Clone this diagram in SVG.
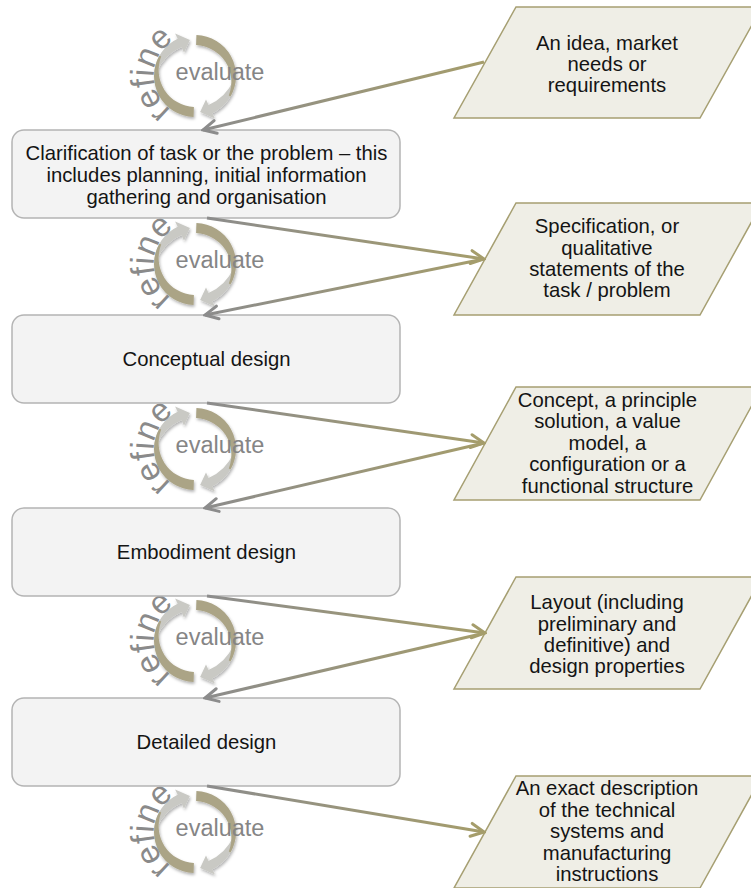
<svg xmlns="http://www.w3.org/2000/svg" width="751" height="888" viewBox="0 0 751 888">
  <style>
    .box { fill: #f3f3f3; stroke: #b4b4b4; stroke-width: 1.5; }
    .para { fill: #efeee6; stroke: #a69f72; stroke-width: 1.5; }
    .label { font-family: "Liberation Sans", Arial, sans-serif; font-size: 20.3px; fill: #141414; text-anchor: middle; }
    .evaluate { font-family: "Liberation Sans", Arial, sans-serif; font-size: 23.5px; fill: #858585; text-anchor: middle; }
    .refine { font-family: "Liberation Sans", Arial, sans-serif; font-size: 33px; fill: #8a8a8a; }
    .ringGray { fill: #c9c9c4; }
    .ringKhaki { fill: #aba486; }
    .conn { fill: none; stroke: url(#connGrad); stroke-width: 3; }
    .toBox { marker-end: url(#headGray); }
    .toPara { marker-end: url(#headKhaki); }
  </style>
  <defs>
    <linearGradient id="connGrad" x1="0" y1="0" x2="1" y2="0">
      <stop offset="0" stop-color="#8c8c8c"/>
      <stop offset="1" stop-color="#a59d6b"/>
    </linearGradient>
    <marker id="headGray" viewBox="-16 -9 18 18" refX="0" refY="0" markerWidth="18" markerHeight="18" markerUnits="userSpaceOnUse" orient="auto">
      <path d="M-13,-6.5 L0,0 L-13,6.5" fill="none" stroke="#8c8c8c" stroke-width="3" stroke-linecap="round"/>
    </marker>
    <marker id="headKhaki" viewBox="-16 -9 18 18" refX="0" refY="0" markerWidth="18" markerHeight="18" markerUnits="userSpaceOnUse" orient="auto">
      <path d="M-13,-6.5 L0,0 L-13,6.5" fill="none" stroke="#a59d6b" stroke-width="3" stroke-linecap="round"/>
    </marker>
    <filter id="soft" x="-20%" y="-20%" width="140%" height="140%">
      <feDropShadow dx="1" dy="2" stdDeviation="1.5" flood-color="#000" flood-opacity="0.3"/>
    </filter>
    <!-- circular refine/evaluate ring, centred at (195,76) -->
    <g id="ring" filter="url(#soft)">
      <path class="ringGray" d="M154.2,72.4 A41,41 0 0 1 177.7,38.8 L175.1,33.4 L189.9,39.9 L184.0,52.4 L181.5,47.0 A50,50 0 0 0 156.2,72.6 Z"/>
      <path class="ringGray" d="M235.8,79.6 A41,41 0 0 1 212.3,113.2 L214.9,118.6 L200.1,112.1 L206.0,99.6 L208.5,105.0 A50,50 0 0 0 233.8,79.4 Z"/>
      <path class="ringKhaki" d="M196.4,35.0 A41,41 0 0 1 230.5,96.5 L228.8,95.5 A37,37 0 0 0 196.1,45.0 Z"/>
      <path class="ringKhaki" d="M193.6,117.0 A41,41 0 0 1 159.5,55.5 L161.2,56.5 A37,37 0 0 0 193.9,107.0 Z"/>
    </g>
    <path id="refineArc" d="M180.0,114.5 A41,41 0 0 1 210.0,37.5" fill="none"/>
  </defs>

  <rect width="751" height="888" fill="#ffffff"/>

  <!-- evaluation cycles -->
  <g id="cycle1">
    <use href="#ring"/>
    <text class="evaluate" x="220" y="80">evaluate</text>
    <text class="refine"><textPath href="#refineArc" startOffset="10">refine</textPath></text>
  </g>
  <g id="cycle2" transform="translate(0,188)">
    <use href="#ring"/>
    <text class="evaluate" x="220" y="80">evaluate</text>
    <text class="refine"><textPath href="#refineArc" startOffset="10">refine</textPath></text>
  </g>
  <g id="cycle3" transform="translate(0,373)">
    <use href="#ring"/>
    <text class="evaluate" x="220" y="80">evaluate</text>
    <text class="refine"><textPath href="#refineArc" startOffset="10">refine</textPath></text>
  </g>
  <g id="cycle4" transform="translate(0,565)">
    <use href="#ring"/>
    <text class="evaluate" x="220" y="80">evaluate</text>
    <text class="refine"><textPath href="#refineArc" startOffset="10">refine</textPath></text>
  </g>
  <g id="cycle5" transform="translate(0,756)">
    <use href="#ring"/>
    <text class="evaluate" x="220" y="80">evaluate</text>
    <text class="refine"><textPath href="#refineArc" startOffset="10">refine</textPath></text>
  </g>

  <!-- design stages -->
  <g id="clarification">
    <rect class="box" x="12" y="130" width="388" height="88" rx="12"/>
    <text class="label" x="206.5" y="159.5">Clarification of task or the problem – this</text>
    <text class="label" x="206.5" y="181.5">includes planning, initial information</text>
    <text class="label" x="206.5" y="203.5">gathering and organisation</text>
  </g>
  <g id="conceptual">
    <rect class="box" x="12" y="315" width="388" height="88" rx="12"/>
    <text class="label" x="206.5" y="366">Conceptual design</text>
  </g>
  <g id="embodiment">
    <rect class="box" x="12" y="508" width="388" height="88" rx="12"/>
    <text class="label" x="206.5" y="559">Embodiment design</text>
  </g>
  <g id="detailed">
    <rect class="box" x="12" y="698" width="388" height="88" rx="12"/>
    <text class="label" x="206.5" y="749">Detailed design</text>
  </g>

  <!-- stage outputs -->
  <g id="idea">
    <path class="para" d="M516,7 L762,7 L700,118 L454,118 Z"/>
    <text class="label" x="607" y="49.5">An idea, market</text>
    <text class="label" x="607" y="70.5">needs or</text>
    <text class="label" x="607" y="91.5">requirements</text>
  </g>
  <g id="specification">
    <path class="para" d="M516,203 L762,203 L700,315 L454,315 Z"/>
    <text class="label" x="607" y="233.3">Specification, or</text>
    <text class="label" x="607" y="254.7">qualitative</text>
    <text class="label" x="607" y="276">statements of the</text>
    <text class="label" x="607" y="297.3">task / problem</text>
  </g>
  <g id="concept">
    <path class="para" d="M516,387 L762,387 L700,500 L454,500 Z"/>
    <text class="label" x="607.5" y="406.7">Concept, a principle</text>
    <text class="label" x="607.5" y="428.2">solution, a value</text>
    <text class="label" x="607.5" y="449.7">model, a</text>
    <text class="label" x="607.5" y="471.2">configuration or a</text>
    <text class="label" x="607.5" y="492.7">functional structure</text>
  </g>
  <g id="layout">
    <path class="para" d="M516,577 L762,577 L700,689 L454,689 Z"/>
    <text class="label" x="607" y="609.3">Layout (including</text>
    <text class="label" x="607" y="630.7">preliminary and</text>
    <text class="label" x="607" y="652">definitive) and</text>
    <text class="label" x="607" y="673.3">design properties</text>
  </g>
  <g id="description">
    <path class="para" d="M516,776 L762,776 L700,888 L454,888 Z"/>
    <text class="label" x="607" y="795">An exact description</text>
    <text class="label" x="607" y="816.5">of the technical</text>
    <text class="label" x="607" y="838">systems and</text>
    <text class="label" x="607" y="859.5">manufacturing</text>
    <text class="label" x="607" y="881">instructions</text>
  </g>

  <!-- connectors -->
  <g id="connectors">
    <line class="conn toBox" x1="484" y1="62" x2="203" y2="130"/>
    <line class="conn toPara" x1="207" y1="218" x2="484" y2="259"/>
    <line class="conn toBox" x1="484" y1="259" x2="205" y2="315"/>
    <line class="conn toPara" x1="207" y1="403" x2="484" y2="443"/>
    <line class="conn toBox" x1="484" y1="443" x2="205" y2="508"/>
    <line class="conn toPara" x1="207" y1="596" x2="485" y2="633"/>
    <line class="conn toBox" x1="485" y1="633" x2="205" y2="698"/>
    <line class="conn toPara" x1="207" y1="786" x2="484" y2="832"/>
  </g>
</svg>
